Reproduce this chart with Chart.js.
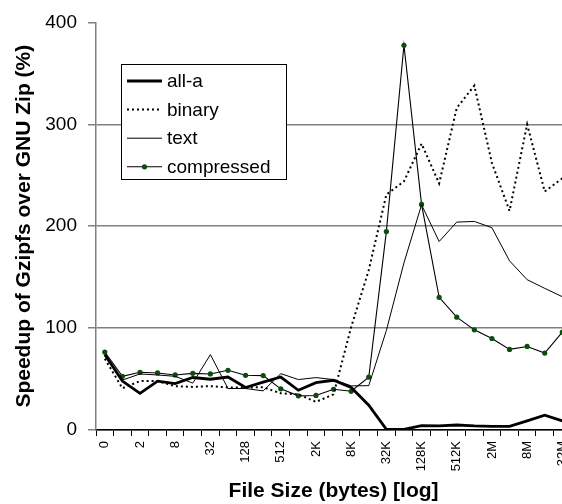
<!DOCTYPE html>
<html>
<head>
<meta charset="utf-8">
<script src="https://cdn.jsdelivr.net/npm/chart.js@4.4.1/dist/chart.umd.min.js"></script>
<style>
  html, body { margin: 0; padding: 0; background: #fff; overflow: hidden; }
  #wrap { width: 583px; height: 504px; position: relative; }
</style>
</head>
<body>
<div id="wrap"><canvas id="speedupChart"></canvas></div>
<script>
// file sizes (log scale, one category per power of two)
const sizes = ['0','1','2','4','8','16','32','64','128','256','512','1K','2K','4K','8K','16K',
  '32K','64K','128K','256K','512K','1M','2M','4M','8M','16M','32M'];

// speedup (%) per file type
const allA = [74, 48, 36, 48, 45.6, 51.5, 49.8, 52, 41.7, 47, 52, 39, 46.5, 48.8, 41.7, 24.4,
  0.7, 0.7, 4.2, 4, 4.9, 4, 3.6, 3.6, 9, 14.6, 9];
const binary = [70, 41, 48, 48, 43, 42.3, 43, 41.7, 41.7, 42, 36, 35, 27.6, 35, 101, 157,
  231, 244, 281, 242, 316, 338, 262, 215, 300, 234, 247];
const text = [72, 49, 55, 54, 52.7, 46, 74, 40.7, 40.7, 38.4, 55.3, 49.5, 51.4, 49.5, 43.3, 43.5,
  97.6, 164, 221, 185, 204, 204.7, 198.5, 166, 147.5, 139, 130.8];
const compressed = [76.5, 52.7, 56.6, 56, 54, 55.6, 55, 58.6, 53.7, 53.4, 40.4, 33.5, 33.9, 40, 38, 51.8,
  194.7, 377.6, 221.4, 130.2, 110.7, 98.3, 89.8, 79.1, 82, 75.5, 96];

const yTicks = [0, 100, 200, 300, 400];

const FONT = '"Liberation Sans", Arial, sans-serif';

// legend box drawn inside the plot, like the original
const boxLegend = {
  id: 'boxLegend',
  afterDraw(chart) {
    const c = chart.ctx;
    const x = 121, y = 64, w = 165, h = 115;
    c.save();
    c.fillStyle = '#fff';
    c.fillRect(x, y, w, h);
    c.strokeStyle = '#000';
    c.lineWidth = 1;
    c.strokeRect(x + 0.5, y + 0.5, w, h);
    c.font = '19px ' + FONT;
    c.textBaseline = 'middle';
    chart.data.datasets.forEach((ds, i) => {
      const ly = 81 + i * 28.6;
      c.beginPath();
      c.strokeStyle = ds.borderColor;
      c.lineWidth = ds.borderWidth;
      c.setLineDash(ds.borderDash || []);
      c.moveTo(127, ly);
      c.lineTo(162, ly);
      c.stroke();
      c.setLineDash([]);
      if (ds.pointRadius > 0) {
        c.beginPath();
        c.fillStyle = ds.pointBackgroundColor;
        c.arc(144.5, ly, ds.pointRadius, 0, Math.PI * 2);
        c.fill();
      }
      c.fillStyle = '#000';
      c.fillText(ds.label, 167, ly + 1);
    });
    c.restore();
  }
};

new Chart(document.getElementById('speedupChart'), {
  type: 'line',
  data: {
    labels: sizes,
    datasets: [
      { label: 'all-a', data: allA, borderColor: '#000', borderWidth: 2.8, pointRadius: 0, tension: 0 },
      { label: 'binary', data: binary, borderColor: '#000', borderWidth: 2, borderDash: [2, 3], pointRadius: 0, tension: 0 },
      { label: 'text', data: text, borderColor: '#000', borderWidth: 1, pointRadius: 0, tension: 0 },
      { label: 'compressed', data: compressed, borderColor: '#000', borderWidth: 1.1, pointRadius: 2.6,
        pointBackgroundColor: '#0b4d0b', pointBorderColor: '#0b4d0b', pointBorderWidth: 0, tension: 0 }
    ]
  },
  options: {
    responsive: true,
    maintainAspectRatio: false,
    animation: false,
    layout: { padding: { top: 19, left: 0, right: 0, bottom: 0 } },
    plugins: { legend: { display: false }, tooltip: { enabled: false } },
    scales: {
      x: {
        offset: true,
        grid: { offset: true, drawOnChartArea: false, drawTicks: true, tickLength: 6, color: '#000', lineWidth: 1 },
        border: { color: '#000', width: 1.5 },
        ticks: {
          autoSkip: false, maxRotation: 90, minRotation: 90, padding: 5,
          color: '#000', font: { family: FONT, size: 13 },
          callback: (v, i) => (i % 2 === 0 ? sizes[i] : '')
        },
        title: {
          display: true, text: 'File Size (bytes) [log]', color: '#000',
          font: { family: FONT, size: 21, weight: 'bold' }, padding: { top: 0, bottom: 0 }
        },
        afterFit: s => { s.height = 74; }
      },
      y: {
        min: 0, max: 400,
        afterBuildTicks: s => { s.ticks = yTicks.map(v => ({ value: v })); },
        grid: {
          color: c => (c.tick && c.tick.value === 400 ? 'rgba(0,0,0,0)' : '#808080'),
          tickColor: '#808080', lineWidth: 1.5, tickLength: 8
        },
        border: { color: '#808080', width: 1.5 },
        ticks: { color: '#000', padding: 11, font: { family: FONT, size: 19 } },
        title: {
          display: true, text: 'Speedup of Gzipfs over GNU Zip (%)', color: '#000',
          font: { family: FONT, size: 21, weight: 'bold' }, padding: { top: 12, bottom: 0 }
        },
        afterFit: s => { s.width = 96; }
      }
    }
  },
  plugins: [boxLegend]
});
</script>
</body>
</html>
